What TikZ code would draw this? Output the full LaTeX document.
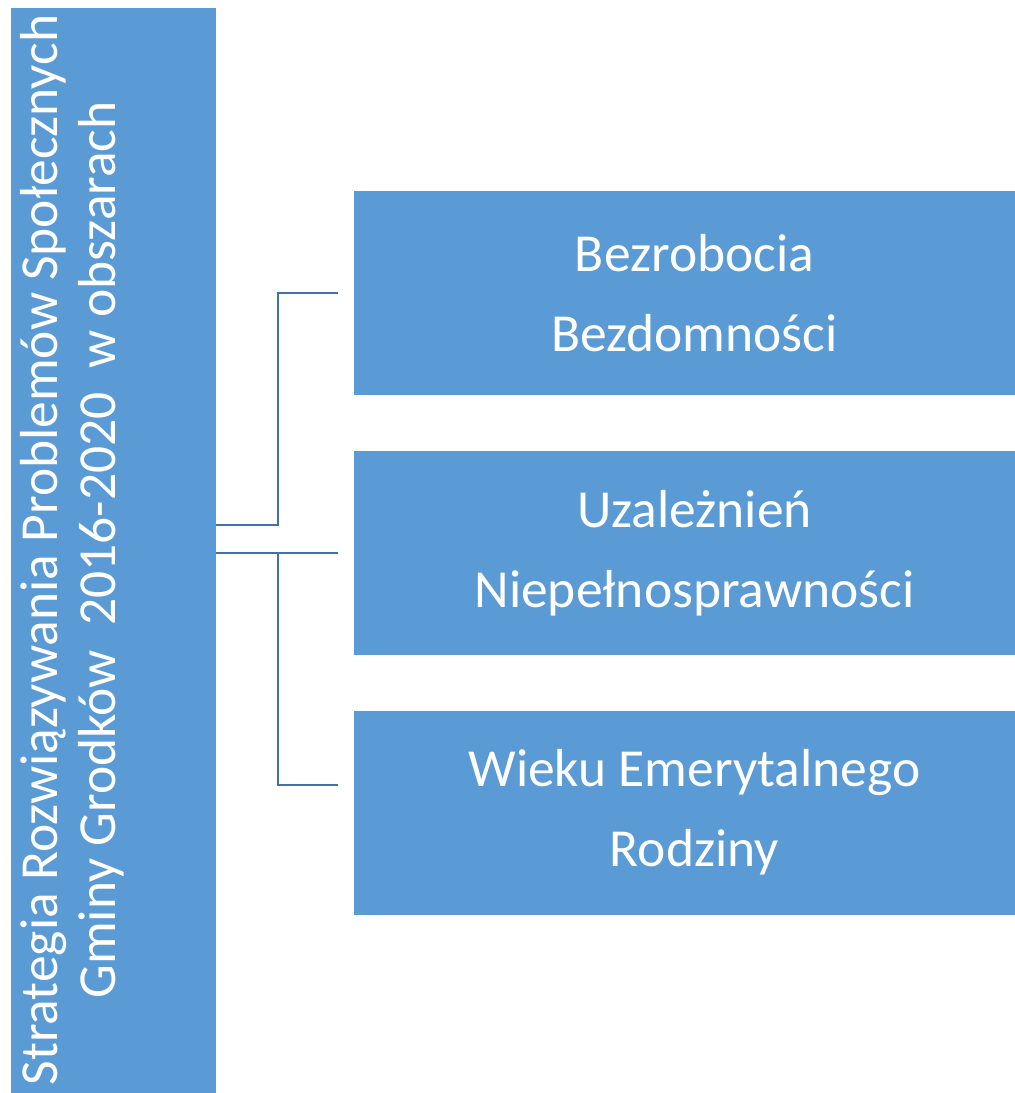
\documentclass[tikz,border=0pt]{standalone}
\usepackage{fontspec}
\setmainfont{Carlito}
\usetikzlibrary{positioning}
\definecolor{boxblue}{RGB}{91,155,213}
\definecolor{lineblue}{RGB}{65,113,166}
\tikzset{
  area/.style={fill=boxblue, draw=none, text=white, minimum width=661pt, minimum height=204pt, inner sep=0pt},
  conn/.style={draw=lineblue, line width=2pt},
}

\begin{document}
\begin{tikzpicture}[x=1pt, y=-1pt]
% Fix the page to the size of the reference
\useasboundingbox (0, 0) rectangle (1015, 1093);
% Tall box on the left with the title
\node[fill=boxblue, minimum width=205pt, minimum height=1085pt, inner sep=0pt] (strat) at (113.5, 550.5) {};
\node[rotate=90, anchor=north, text=white, align=center, inner sep=0pt, font=\fontsize{53.5}{58}\selectfont] (title) at (20, 550) {Strategia Rozwiązywania Problemów Społecznych\\Gminy Grodków~~2016-2020~~w obszarach};
% Three boxes on the right
\node[area, align=center, font=\fontsize{53.5}{80}\selectfont] (b1) at (684.5, 293) {\hspace*{20pt}Bezrobocia\\\hspace*{20pt}Bezdomności};
\node[area, align=center, font=\fontsize{53.5}{80}\selectfont] (b2) at (684.5, 553) {\hspace*{20pt}Uzależnień\\\hspace*{20pt}Niepełnosprawności};
\node[area, align=center, font=\fontsize{53.5}{80}\selectfont] (b3) at (684.5, 812.5) {\hspace*{20pt}Wieku Emerytalnego\\\hspace*{20pt}Rodziny};
% Connectors from the title box to the boxes
\draw[conn] ([yshift=25.5pt]strat.east) -| ([xshift=-76pt]b1.west) -- ([xshift=-16pt]b1.west);
\draw[conn] (strat.east |- b2.west) -- ([xshift=-16pt]b2.west);
\draw[conn] ([xshift=-76pt]b2.west) |- ([xshift=-16pt, yshift=27.5pt]b3.west);
\end{tikzpicture}
\end{document}
